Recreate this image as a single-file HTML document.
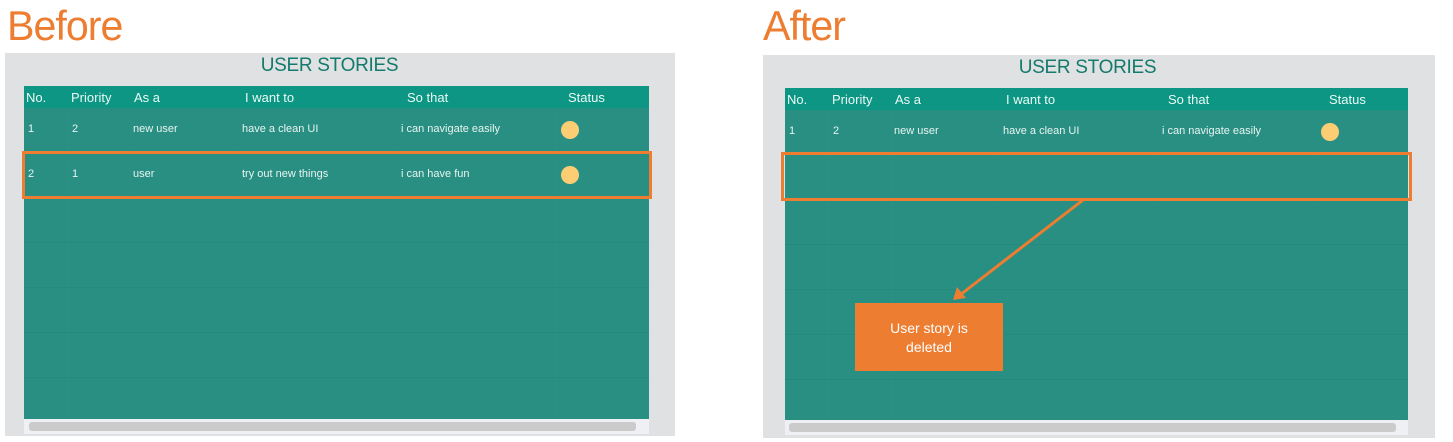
<!DOCTYPE html>
<html><head><meta charset="utf-8"><style>
*{margin:0;padding:0;box-sizing:border-box}
body{width:1453px;height:442px;background:#fff;position:relative;overflow:hidden;font-family:"Liberation Sans",sans-serif}
.a{position:absolute}
.big{font-family:"Liberation Sans",sans-serif;color:#ed7d31;font-size:42px;transform:scaleX(0.98);transform-origin:left top;letter-spacing:-1px}
.panel{background:#e0e1e3}
.title{color:#137a6c;font-size:19px;width:625px;text-align:center;letter-spacing:-0.3px}
.tbl{background:#288f82}
.hdr{background:#0d9683;color:#eafaf6;font-size:13px}
.hdr span,.row span{position:absolute}
.row{color:#e8f4f1;font-size:11px}
.hl{position:absolute;height:1px;background:#26897d;left:0;right:0}
.vl{position:absolute;width:1px;background:#2a9185;top:0;bottom:0}
.dot{position:absolute;width:18px;height:18px;border-radius:50%;background:#fdcd74}
.sb{background:#eef0f3}
.bar{background:#cbcbcb;border-radius:3px}
.box{border:3px solid #ed7d31}
</style></head><body>

<div class="a big" style="left:7px;top:2px">Before</div>
<div class="a big" style="left:763px;top:2px">After</div>

<!-- BEFORE -->
<div class="a panel" style="left:5px;top:53px;width:670px;height:383px"></div>
<div class="a title" style="left:17px;top:55px">USER STORIES</div>
<div class="a tbl" style="left:24px;top:86px;width:625px;height:333px">
  <div class="vl" style="left:43px"></div><div class="vl" style="left:106px"></div><div class="vl" style="left:213px"></div><div class="vl" style="left:373px"></div><div class="vl" style="left:532px"></div>
  <div class="hl" style="top:66px"></div><div class="hl" style="top:111px"></div><div class="hl" style="top:156px"></div><div class="hl" style="top:201px"></div><div class="hl" style="top:246px"></div><div class="hl" style="top:291px"></div>
  <div class="a hdr" style="left:0;top:0;width:625px;height:22px">
    <span style="left:2px;top:4px">No.</span><span style="left:47px;top:4px">Priority</span><span style="left:110px;top:4px">As a</span><span style="left:221px;top:4px">I want to</span><span style="left:383px;top:4px">So that</span><span style="left:544px;top:4px">Status</span>
  </div>
  <div class="a row" style="left:0;top:22px;width:625px;height:44px">
    <span style="left:4px;top:15px">1</span><span style="left:48px;top:15px">2</span><span style="left:109px;top:15px">new user</span><span style="left:218px;top:15px">have a clean UI</span><span style="left:377px;top:15px">i can navigate easily</span><div class="dot" style="left:537px;top:13px"></div>
  </div>
  <div class="a row" style="left:0;top:66px;width:625px;height:45px">
    <span style="left:4px;top:16px">2</span><span style="left:48px;top:16px">1</span><span style="left:109px;top:16px">user</span><span style="left:218px;top:16px">try out new things</span><span style="left:377px;top:16px">i can have fun</span><div class="dot" style="left:537px;top:14px"></div>
  </div>
</div>
<div class="a sb" style="left:24px;top:419px;width:625px;height:15px"></div>
<div class="a bar" style="left:29px;top:422px;width:607px;height:9px"></div>
<div class="a box" style="left:22px;top:151px;width:630px;height:48px"></div>

<!-- AFTER -->
<div class="a panel" style="left:763px;top:55px;width:672px;height:383px"></div>
<div class="a title" style="left:775px;top:57px">USER STORIES</div>
<div class="a tbl" style="left:785px;top:88px;width:623px;height:332px">
  <div class="vl" style="left:43px"></div><div class="vl" style="left:106px"></div><div class="vl" style="left:213px"></div><div class="vl" style="left:373px"></div><div class="vl" style="left:532px"></div>
  <div class="hl" style="top:66px"></div><div class="hl" style="top:111px"></div><div class="hl" style="top:156px"></div><div class="hl" style="top:201px"></div><div class="hl" style="top:246px"></div><div class="hl" style="top:291px"></div>
  <div class="a hdr" style="left:0;top:0;width:623px;height:22px">
    <span style="left:2px;top:4px">No.</span><span style="left:47px;top:4px">Priority</span><span style="left:110px;top:4px">As a</span><span style="left:221px;top:4px">I want to</span><span style="left:383px;top:4px">So that</span><span style="left:544px;top:4px">Status</span>
  </div>
  <div class="a row" style="left:0;top:22px;width:623px;height:44px">
    <span style="left:4px;top:15px">1</span><span style="left:48px;top:15px">2</span><span style="left:109px;top:15px">new user</span><span style="left:218px;top:15px">have a clean UI</span><span style="left:377px;top:15px">i can navigate easily</span><div class="dot" style="left:536px;top:13px"></div>
  </div>
</div>
<div class="a sb" style="left:785px;top:420px;width:623px;height:15px"></div>
<div class="a bar" style="left:789px;top:423px;width:607px;height:9px"></div>
<div class="a box" style="left:781px;top:152px;width:631px;height:49px"></div>

<svg class="a" style="left:0;top:0" width="1453" height="442">
  <line x1="1083" y1="200" x2="960" y2="295" stroke="#ed7d31" stroke-width="3"/>
  <polygon points="953,300 957,287 966,298" fill="#ed7d31"/>
</svg>
<div class="a" style="left:855px;top:303px;width:148px;height:68px;background:#ed7d31;color:#fff;font-size:14px;text-align:center;line-height:19px;padding-top:16px">User story is<br>deleted</div>

</body></html>
